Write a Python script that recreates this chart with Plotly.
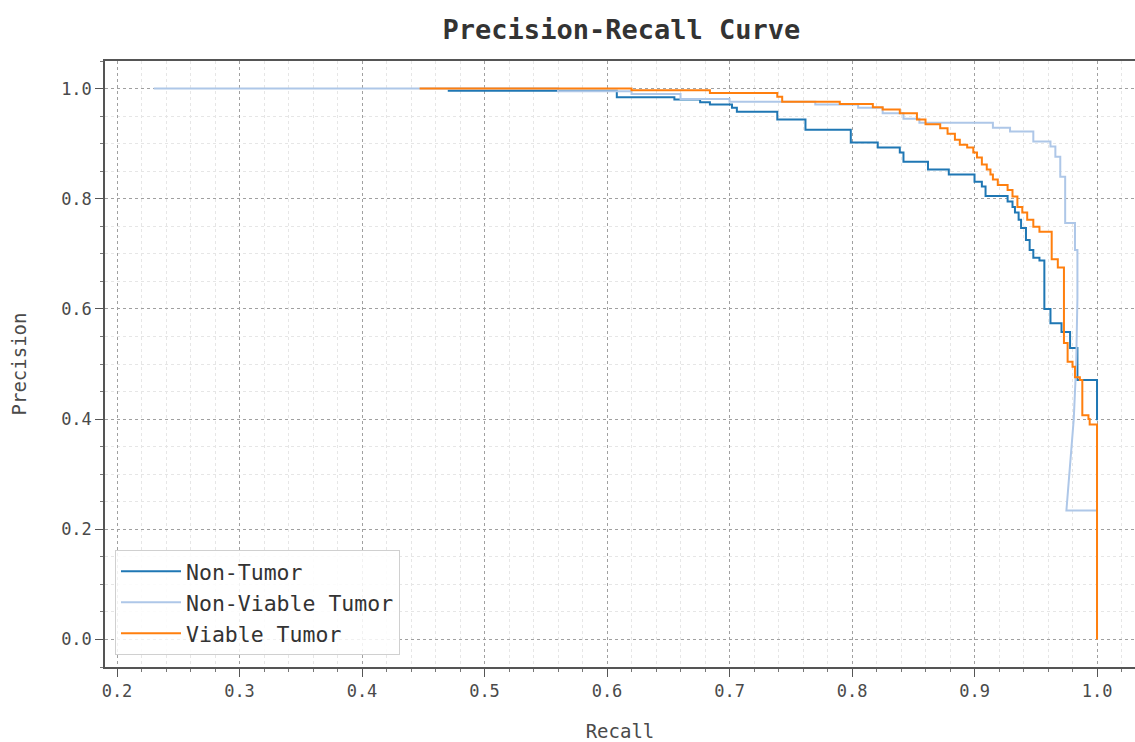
import plotly.graph_objects as go

# ---- data ----
series_names = ["Non-Tumor", "Non-Viable Tumor", "Viable Tumor"]
series_colors = ["#1f77b4", "#aec7e8", "#ff7f0e"]

# Non-Tumor (step points, hv)
recall_nt = [0.470, 0.608, 0.655, 0.676, 0.684, 0.702, 0.706, 0.739, 0.762, 0.799,
             0.821, 0.839, 0.842, 0.862, 0.879, 0.900, 0.906, 0.909, 0.927, 0.931,
             0.933, 0.936, 0.938, 0.942, 0.945, 0.948, 0.953, 0.957, 0.957, 0.962,
             0.971, 0.978, 0.984, 1.000]
prec_nt = [0.996, 0.984, 0.980, 0.975, 0.971, 0.965, 0.958, 0.944, 0.925, 0.902,
           0.893, 0.884, 0.867, 0.853, 0.844, 0.831, 0.822, 0.805, 0.795, 0.785,
           0.775, 0.762, 0.747, 0.725, 0.707, 0.693, 0.688, 0.665, 0.600, 0.574,
           0.558, 0.529, 0.471, 0.398]

# Non-Viable Tumor (corner points, linear)
recall_nvt = [0.230, 0.560, 0.560, 0.620, 0.620, 0.660, 0.660, 0.700, 0.700, 0.770,
              0.770, 0.805, 0.805, 0.825, 0.825, 0.842, 0.842, 0.855, 0.855, 0.915,
              0.915, 0.929, 0.929, 0.948, 0.948, 0.962, 0.962, 0.966, 0.966, 0.970,
              0.970, 0.974, 0.974, 0.982, 0.982, 0.984, 0.984, 0.983, 0.981, 0.978,
              0.975, 1.000]
prec_nvt = [1.000, 1.000, 0.995, 0.995, 0.990, 0.990, 0.981, 0.981, 0.976, 0.976,
            0.971, 0.971, 0.965, 0.965, 0.955, 0.955, 0.945, 0.945, 0.938, 0.938,
            0.929, 0.929, 0.922, 0.922, 0.904, 0.904, 0.895, 0.895, 0.876, 0.876,
            0.840, 0.840, 0.756, 0.756, 0.707, 0.707, 0.620, 0.500, 0.400, 0.310,
            0.234, 0.234]

# Viable Tumor (step points, hv)
recall_vt = [0.447, 0.620, 0.684, 0.739, 0.743, 0.790, 0.817, 0.825, 0.839, 0.853,
             0.860, 0.872, 0.878, 0.884, 0.888, 0.894, 0.899, 0.902, 0.906, 0.910,
             0.913, 0.915, 0.919, 0.927, 0.931, 0.935, 0.939, 0.943, 0.948, 0.953,
             0.963, 0.968, 0.973, 0.973, 0.976, 0.980, 0.982, 0.986, 0.988, 0.993,
             0.994, 1.000]
prec_vt = [1.000, 0.997, 0.992, 0.985, 0.976, 0.972, 0.966, 0.962, 0.955, 0.944,
           0.935, 0.928, 0.918, 0.907, 0.898, 0.893, 0.884, 0.875, 0.862, 0.853,
           0.844, 0.835, 0.825, 0.816, 0.804, 0.785, 0.775, 0.762, 0.749, 0.740,
           0.690, 0.675, 0.658, 0.538, 0.504, 0.495, 0.476, 0.471, 0.407, 0.400,
           0.390, 0.000]

x_ticks = [0.2, 0.3, 0.4, 0.5, 0.6, 0.7, 0.8, 0.9, 1.0]
y_ticks = [0.0, 0.2, 0.4, 0.6, 0.8, 1.0]

FONT = "DejaVu Sans Mono"
TXT = "#4a4a4a"

fig = go.Figure()
fig.add_trace(go.Scatter(x=recall_nt, y=prec_nt, mode="lines", name=series_names[0],
                         line=dict(color=series_colors[0], width=2, shape="hv")))
fig.add_trace(go.Scatter(x=recall_nvt, y=prec_nvt, mode="lines", name=series_names[1],
                         line=dict(color=series_colors[1], width=2, shape="linear")))
fig.add_trace(go.Scatter(x=recall_vt, y=prec_vt, mode="lines", name=series_names[2],
                         line=dict(color=series_colors[2], width=2, shape="hv")))

axis_common = dict(
    showline=True, linecolor="#555555", linewidth=1.5,
    ticks="outside", ticklen=8, tickcolor="#555555", tickwidth=1.2,
    showgrid=True, gridcolor="#a0a0a0", gridwidth=1, griddash="3px,3px",
    zeroline=False,
    tickfont=dict(family=FONT, size=17, color=TXT),
    tickformat=".1f",
)

fig.update_layout(
    width=1135, height=742,
    margin=dict(l=105, r=0, t=61, b=75),
    paper_bgcolor="white", plot_bgcolor="white",
    title=dict(text="<b>Precision-Recall Curve</b>", x=0.5475, xanchor="center",
               y=0.96, yanchor="middle",
               font=dict(family=FONT, size=27, color="#333333")),
    xaxis=dict(axis_common, range=[0.1902, 1.031], tickvals=x_ticks, mirror=True,
               title=dict(text="Recall", font=dict(family=FONT, size=19, color=TXT), standoff=27),
               minor=dict(dtick=0.02, tick0=0.2, showgrid=True, gridcolor="#e6e6e6", gridwidth=1,
                          ticks="outside", ticklen=3, tickcolor="#777777")),
    yaxis=dict(axis_common, range=[-0.05, 1.05], tickvals=y_ticks,
               title=dict(text="Precision", font=dict(family=FONT, size=19, color=TXT), standoff=29),
               minor=dict(dtick=0.05, tick0=0.0, showgrid=True, gridcolor="#e6e6e6", gridwidth=1,
                          ticks="outside", ticklen=3, tickcolor="#777777")),
    legend=dict(x=0.0097, y=0.02, xanchor="left", yanchor="bottom",
                bgcolor="rgba(255,255,255,0.85)", bordercolor="#d0d0d0", borderwidth=1,
                font=dict(family=FONT, size=21.5, color="#333333"),
                tracegroupgap=0, itemwidth=60),
    showlegend=True,
)

fig.write_html("out.html")
